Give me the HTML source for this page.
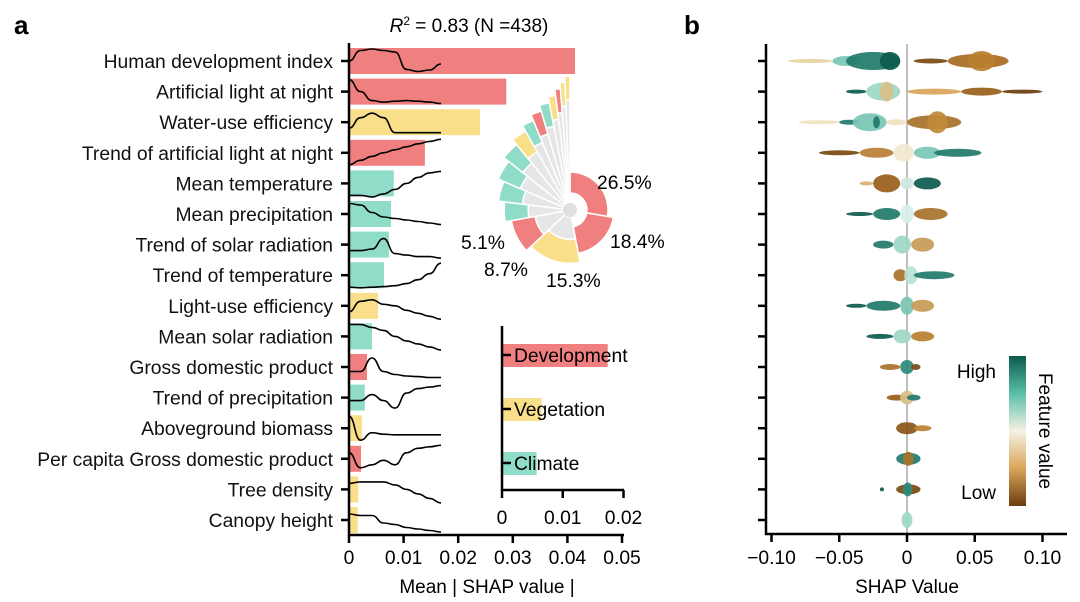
<!DOCTYPE html>
<html><head><meta charset="utf-8">
<style>
html,body{margin:0;padding:0;background:#fff;}
svg{display:block;font-family:"Liberation Sans",Arial,sans-serif;}
</style></head>
<body>
<svg id="chart" width="1080" height="602" viewBox="0 0 1080 602" xmlns="http://www.w3.org/2000/svg">
<defs>
<linearGradient id="cbar" x1="0" y1="0" x2="0" y2="1">
<stop offset="0" stop-color="#0b5a4c"/><stop offset="0.25" stop-color="#5bbfa8"/>
<stop offset="0.5" stop-color="#f5f1e4"/><stop offset="0.75" stop-color="#d9a55a"/>
<stop offset="1" stop-color="#6b3d0e"/>
</linearGradient>
</defs>
<text x="14" y="34" font-size="26" font-weight="bold">a</text>
<text x="684" y="34" font-size="26" font-weight="bold">b</text>
<text x="469" y="32" font-size="19" text-anchor="middle"><tspan font-style="italic">R</tspan><tspan font-size="12" dy="-7">2</tspan><tspan dy="7"> = 0.83 (N =438)</tspan></text>
<g id="gA"></g>
<g id="gRose"></g>
<g id="gInset"></g>
<g id="gB"></g>
<rect x="1009" y="356" width="17" height="150" fill="url(#cbar)"/>
<text x="996" y="378" font-size="19" text-anchor="end">High</text>
<text x="996" y="499" font-size="19" text-anchor="end">Low</text>
<text transform="translate(1039,431) rotate(90)" font-size="19" text-anchor="middle">Feature value</text>
<text x="487" y="593" font-size="19" text-anchor="middle">Mean | SHAP value |</text>
<text x="907" y="593" font-size="19" text-anchor="middle">SHAP Value</text>
</svg>
<script>
const features = ["Human development index","Artificial light at night","Water-use efficiency","Trend of artificial light at night","Mean temperature","Mean precipitation","Trend of solar radiation","Trend of temperature","Light-use efficiency","Mean solar radiation","Gross domestic product","Trend of precipitation","Aboveground biomass","Per capita Gross domestic product","Tree density","Canopy height"];
const groups = ["D","D","V","D","C","C","C","C","V","C","D","C","V","D","V","V"];
const importance = [0.0414,0.0288,0.024,0.0139,0.0082,0.0077,0.0073,0.0064,0.0053,0.0042,0.0033,0.0029,0.0024,0.0022,0.0017,0.0016];
const xTicksA = [0,0.01,0.02,0.03,0.04,0.05];
const xTickLabelsA = ["0","0.01","0.02","0.03","0.04","0.05"];
const rosePct = [26.5,18.4,15.3,8.7,4.6,4.3,4.0,3.3,2.6,1.9,1.6,1.4,1.0,0.7,0.6,0.6];
const roseLabels = ["26.5%","18.4%","15.3%","8.7%","5.1%"];
const groupNames = ["Development","Vegetation","Climate"];
const groupValues = [0.0174,0.0065,0.0057];
const insetTicks = [0,0.01,0.02];
const insetTickLabels = ["0","0.01","0.02"];
const xTicksB = [-0.1,-0.05,0,0.05,0.1];
const xTickLabelsB = ["\u22120.10","\u22120.05","0","0.05","0.10"];
const curves = [
[0.5,0.15,0.1,0.15,0.2,0.78,0.85,0.8,0.6],
[0.1,0.5,0.8,0.85,0.82,0.8,0.82,0.85,0.9],
[0.7,0.35,0.2,0.35,0.85,0.85,0.85,0.85,0.85],
[0.9,0.75,0.62,0.5,0.4,0.3,0.2,0.12,0.05],
[0.9,0.9,0.95,0.85,0.7,0.5,0.3,0.15,0.1],
[0.15,0.2,0.45,0.6,0.65,0.7,0.75,0.8,0.85],
[0.7,0.7,0.65,0.3,0.8,0.85,0.9,0.9,0.95],
[0.9,0.92,0.9,0.88,0.85,0.78,0.65,0.45,0.1],
[0.7,0.35,0.3,0.45,0.5,0.65,0.75,0.85,0.95],
[0.1,0.1,0.2,0.3,0.5,0.65,0.75,0.85,0.95],
[0.65,0.65,0.2,0.65,0.75,0.8,0.82,0.85,0.85],
[0.6,0.6,0.4,0.6,0.85,0.35,0.2,0.15,0.1],
[0.1,0.9,0.65,0.7,0.72,0.72,0.72,0.72,0.72],
[0.3,0.8,0.7,0.55,0.7,0.3,0.15,0.1,0.05],
[0.3,0.25,0.25,0.25,0.35,0.5,0.65,0.8,0.95],
[0.3,0.35,0.35,0.6,0.65,0.75,0.8,0.85,0.9]
];
const swarm = [
[[-0.088,-0.055,2,'#e8d3a0'],[-0.055,-0.035,5,'#7ac6b5'],[-0.045,-0.005,9,'#1f7a6a'],[-0.02,-0.005,9,'#0b5a4c'],[0.005,0.03,2.5,'#7a4a12'],[0.03,0.075,7,'#a86a20'],[0.045,0.065,10,'#b8802e']],
[[-0.045,-0.03,2,'#0b5a4c'],[-0.03,-0.005,9,'#9ed8c8'],[-0.02,-0.01,10,'#d9c08a'],[0,0.04,3,'#d9a55a'],[0.04,0.07,4,'#9a5e1c'],[0.07,0.1,2,'#6b3d0e']],
[[-0.08,-0.05,2,'#f0e2c0'],[-0.05,-0.035,2.5,'#1f7a6a'],[-0.04,-0.015,9,'#7ac6b5'],[-0.025,-0.02,6,'#1f7a6a'],[-0.015,0,3,'#f0e2c0'],[0,0.04,7,'#a8722a'],[0.015,0.03,11,'#c08a3a']],
[[-0.065,-0.035,2.5,'#7a4a12'],[-0.035,-0.01,5,'#b87e35'],[-0.01,0.005,9,'#f2e8d0'],[0.005,0.025,6,'#7ac6b5'],[0.02,0.055,4,'#1f7a6a']],
[[-0.035,-0.025,2,'#d9b070'],[-0.025,-0.005,9,'#9a5e1c'],[-0.005,0.005,6,'#cfe8e0'],[0.005,0.025,6,'#0b5a4c']],
[[-0.045,-0.025,2,'#0b5a4c'],[-0.025,-0.005,6,'#1f7a6a'],[-0.005,0.005,9,'#d7efe8'],[0.005,0.03,6,'#a8722a']],
[[-0.025,-0.01,4,'#1f7a6a'],[-0.01,0.003,9,'#9ed8c8'],[0.003,0.02,7,'#c89a55']],
[[-0.01,0,6,'#a8722a'],[-0.002,0.008,9,'#b8e2d6'],[0.005,0.035,4,'#1f7a6a']],
[[-0.045,-0.03,2,'#0b5a4c'],[-0.03,-0.005,5,'#1f7a6a'],[-0.005,0.005,9,'#7ac6b5'],[0.003,0.02,6,'#c89a55']],
[[-0.03,-0.01,2.5,'#0b5a4c'],[-0.01,0.003,7,'#9ed8c8'],[0.003,0.02,5,'#b8802e']],
[[-0.02,-0.005,3,'#a8722a'],[-0.005,0.005,7,'#2a8a78'],[0.003,0.01,3,'#7a4a12']],
[[-0.015,0,3,'#9a5e1c'],[-0.005,0.005,7,'#d9c08a'],[0,0.01,3,'#1f7a6a']],
[[-0.008,0.008,6,'#8a5418'],[0.005,0.018,3,'#b8802e']],
[[-0.008,0.01,6,'#1f7a6a'],[-0.003,0.005,7,'#a8722a']],
[[-0.02,-0.017,2,'#0b5a4c'],[-0.008,0.01,5,'#7a4a12'],[-0.003,0.004,7,'#2a8a78']],
[[-0.004,0.004,8,'#9ed8c8']]
];

const NS="http://www.w3.org/2000/svg";
const colors={D:"#f08080",V:"#f9df8a",C:"#8fdcc8"};
function mk(tag,attrs,parent,text){const e=document.createElementNS(NS,tag);for(const k in attrs)e.setAttribute(k,attrs[k]);if(text!==undefined)e.textContent=text;parent.appendChild(e);return e;}
const xA=v=>349+v*5460;
const rowY=i=>61+i*30.6;
const FS=19.3;
const gA=document.getElementById('gA');
features.forEach((f,i)=>{
  const y=rowY(i);
  const r=mk('rect',{x:349,y:y-13,width:xA(importance[i])-349,height:26,fill:colors[groups[i]]},gA);
  
  
  const t=mk('text',{x:333,y:y+7,'font-size':FS,'text-anchor':'end',fill:'#111'},gA,f);
  
  
  const tk=mk('line',{x1:341,x2:349,y1:y,y2:y,stroke:'#000','stroke-width':2.5},gA);
  
  
  const pts=curves[i].map((c,j)=>[349+j*11.5,y-15+c*30]);
  let d='M'+pts[0].join(',');
  for(let j=1;j<pts.length;j++){const p0=pts[j-1],p1=pts[j];const mx=(p0[0]+p1[0])/2;d+=` C${mx},${p0[1]} ${mx},${p1[1]} ${p1[0]},${p1[1]}`;}
  const pth=mk('path',{d:d,fill:'none',stroke:'#000','stroke-width':1.6},gA);
  
  
});
const ya=mk('line',{x1:349,x2:349,y1:43,y2:536,stroke:'#000','stroke-width':2.5},gA);

const xa=mk('line',{x1:348,x2:624,y1:535,y2:535,stroke:'#000','stroke-width':2.5},gA);

xTicksA.forEach((v,i)=>{
  const l=mk('line',{x1:xA(v),x2:xA(v),y1:535,y2:543,stroke:'#000','stroke-width':2.5},gA);
  
  const t=mk('text',{x:xA(v),y:564,'font-size':FS,'text-anchor':'middle'},gA,xTickLabelsA[i]);
  
});
// rose
const gR=document.getElementById('gRose');
const cx=570,cy=210;
function arc(r0,r1,a0,a1){const p=(r,a)=>[cx+r*Math.sin(a),cy-r*Math.cos(a)];const lg=(a1-a0)>Math.PI?1:0;const A=p(r1,a0),B=p(r1,a1),C=p(r0,a1),D=p(r0,a0);return `M${A} A${r1},${r1} 0 ${lg} 1 ${B} L${C} A${r0},${r0} 0 ${lg} 0 ${D}Z`;}
const tot=rosePct.reduce((a,b)=>a+b,0);
let ang=0;
rosePct.forEach((p,i)=>{
  const a0=ang,a1=ang+p/tot*2*Math.PI;ang=a1;
  const rin=i<2?17:17+i*6.2,rout=i===0?38:(i===1?44:rin+24);
  if(rin>18){const g=mk('path',{d:arc(7,rin,a0,a1),fill:'#e6e6e6',stroke:'#fff','stroke-width':1.5},gR);
    }
  const s=mk('path',{d:arc(rin,rout,a0,a1),fill:colors[groups[i]],stroke:'#fff','stroke-width':1.5},gR);
  
});
const hc=mk('circle',{cx:cx,cy:cy,r:7,fill:'#e0e0e0'},gR);

const rlPos=[[597,189],[610,248],[546,287],[484,276],[461,249]];
roseLabels.forEach((s,i)=>{const t=mk('text',{x:rlPos[i][0],y:rlPos[i][1],'font-size':FS},gR,s);
  });
// inset
const gI=document.getElementById('gInset');
const xI=v=>502+v*6075;
groupNames.forEach((n,i)=>{
  const y=355+i*54;const c=[colors.D,colors.V,colors.C][i];
  const r=mk('rect',{x:502,y:y-11,width:xI(groupValues[i])-502,height:23,fill:c},gI);
  
  const tk=mk('line',{x1:502,x2:511,y1:y,y2:y,stroke:'#000','stroke-width':2.5},gI);
  
  const t=mk('text',{x:514,y:y+7,'font-size':FS},gI,n);
  
});
const iy=mk('line',{x1:502,x2:502,y1:326,y2:491,stroke:'#000','stroke-width':2.5},gI);

const ix=mk('line',{x1:501,x2:624,y1:490,y2:490,stroke:'#000','stroke-width':2.5},gI);

insetTicks.forEach((v,i)=>{
  const l=mk('line',{x1:xI(v),x2:xI(v),y1:490,y2:498,stroke:'#000','stroke-width':2.5},gI);
  
  const t=mk('text',{x:xI(v),y:524,'font-size':FS,'text-anchor':'middle'},gI,insetTickLabels[i]);
  
});
// panel b
const gB=document.getElementById('gB');
const xB=v=>907+v*1355;
const zl=mk('line',{x1:907,x2:907,y1:44,y2:535,stroke:'#aaa','stroke-width':1.5},gB);

swarm.forEach((row,i)=>{
  const y=rowY(i);
  row.forEach((c,j)=>{
    const x0=xB(c[0]),x1=xB(c[1]);
    const e=mk('ellipse',{cx:(x0+x1)/2,cy:y,rx:Math.max(2,(x1-x0)/2),ry:c[2],fill:c[3],opacity:0.92},gB);
    
  });
  const tk=mk('line',{x1:758,x2:766,y1:y,y2:y,stroke:'#000','stroke-width':2.5},gB);
  
});
const yb=mk('line',{x1:766,x2:766,y1:44,y2:535,stroke:'#000','stroke-width':2.5},gB);

const xb=mk('line',{x1:765,x2:1067,y1:534,y2:534,stroke:'#000','stroke-width':2.5},gB);

xTicksB.forEach((v,i)=>{
  const l=mk('line',{x1:xB(v),x2:xB(v),y1:534,y2:542,stroke:'#000','stroke-width':2.5},gB);
  
  const t=mk('text',{x:xB(v),y:564,'font-size':FS,'text-anchor':'middle'},gB,xTickLabelsB[i]);
  
});
</script>
</body></html>
